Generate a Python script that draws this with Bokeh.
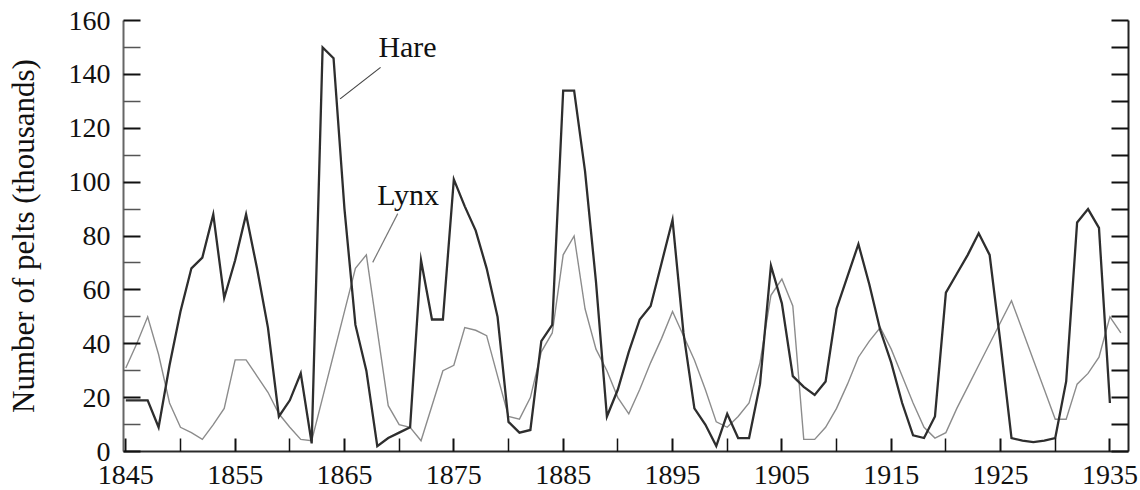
from bokeh.plotting import figure
from bokeh.models import Range1d, FixedTicker, LinearAxis, Label, Arrow
from bokeh.embed import file_html
from bokeh.resources import INLINE

nan = float("nan")

years = list(range(1845, 1937))

hare = [19, 19, 19, 9, 32, 52, 68, 72, 88, 57,
        71, 88, 68, 46, 13, 19, 29, 3, 150, 146,
        90, 47, 30, 2, 5, 7, 9, 71, 49, 49,
        101, 91, 82, 68, 50, 11, 7, 8, 41, 47,
        134, 134, 104, 63, 13, 23, 37, 49, 54, 70,
        86, 44, 16, 10, 2, 14, 5, 5, 25, 69,
        55, 28, 24, 21, 26, 53, 65, 77, 62, 45,
        33, 18, 6, 5, 13, 59, 66, 73, 81, 73,
        40, 5, 4, 3.5, 4, 5, 26, 85, 90, 83,
        18, nan]

lynx = [31, 40, 50, 36, 18, 9, 7, 4.5, 10, 16,
        34, 34, 28, 22, 14, 9, 4.5, 4, 20, 36,
        52, 68, 73, 45, 17, 10, 9, 4, 17, 30,
        32, 46, 45, 43, 28, 13, 12, 20, 37, 44,
        73, 80, 53, 38, 30, 20, 14, 23, 33, 42,
        52, 43, 34, 23, 11, 9, 13, 18, 33, 58,
        64, 54, 4.5, 4.5, 9, 16, 25, 35, 41, 46,
        38, 28, 18, 9, 5, 7, 16, 24, 32, 40,
        48, 56, 45, 34, 23, 12, 12, 25, 29, 35,
        50, 44]

x_ticks = list(range(1845, 1936, 10))
x_minor = list(range(1850, 1931, 10))
y_ticks = list(range(0, 161, 20))
y_minor = list(range(10, 151, 20))
right_ticks = list(range(0, 161, 10))

FONT = "Liberation Serif"

p = figure(width=1140, height=490, output_backend="svg", toolbar_location=None,
           x_range=Range1d(1844.79, 1936.7), y_range=Range1d(0, 160),
           min_border_left=123, min_border_right=12, min_border_top=20,
           min_border_bottom=39)
p.outline_line_color = None
p.xgrid.visible = False
p.ygrid.visible = False
p.background_fill_color = "white"
p.border_fill_color = "white"

xa = p.xaxis[0]
xa.ticker = FixedTicker(ticks=x_ticks, minor_ticks=x_minor)
xa.major_tick_in = 13
xa.major_tick_out = 0
xa.minor_tick_in = 13
xa.minor_tick_out = 0
xa.axis_line_color = "#2a2a2a"
xa.axis_line_width = 2
xa.major_tick_line_color = "#111111"
xa.minor_tick_line_color = "#111111"
xa.major_tick_line_width = 2
xa.minor_tick_line_width = 1.5
xa.major_label_text_font = FONT
xa.major_label_text_font_size = "28px"
xa.major_label_text_color = "#111111"
xa.major_label_standoff = 14

ya = p.yaxis[0]
ya.ticker = FixedTicker(ticks=y_ticks, minor_ticks=y_minor)
ya.major_tick_in = 17
ya.major_tick_out = 0
ya.minor_tick_in = 17
ya.minor_tick_out = 0
ya.axis_line_color = "#666666"
ya.axis_line_width = 2
ya.major_tick_line_color = "#111111"
ya.minor_tick_line_color = "#555555"
ya.major_tick_line_width = 2
ya.minor_tick_line_width = 1.5
ya.major_label_text_font = FONT
ya.major_label_text_font_size = "28px"
ya.major_label_text_color = "#111111"
ya.major_label_standoff = 13
ya.axis_label = "Number of pelts (thousands)"
ya.axis_label_text_font = FONT
ya.axis_label_text_font_size = "31px"
ya.axis_label_text_font_style = "normal"
ya.axis_label_text_color = "#111111"
ya.axis_label_standoff = 25

ra = LinearAxis(ticker=FixedTicker(ticks=right_ticks))
ra.major_tick_in = 17
ra.major_tick_out = 0
ra.minor_tick_in = 0
ra.minor_tick_out = 0
ra.axis_line_color = "#222222"
ra.axis_line_width = 2
ra.major_tick_line_color = "#111111"
ra.major_tick_line_width = 2
ra.major_label_text_font_size = "1px"
ra.major_label_text_color = None
ra.major_label_standoff = 0
p.add_layout(ra, "right")

p.line(years, lynx, line_color="#8c8c8c", line_width=1.4, line_join="miter")
p.line(years, hare, line_color="#2e2e2e", line_width=2.3, line_join="miter")

p.add_layout(Label(x=1868.1, y=150.3, text="Hare", text_font=FONT,
                   text_font_size="30px", text_color="#111111",
                   text_baseline="middle"))
p.add_layout(Label(x=1868.0, y=95.4, text="Lynx", text_font=FONT,
                   text_font_size="30px", text_color="#111111",
                   text_baseline="middle"))
p.add_layout(Arrow(end=None, x_start=1868.3, y_start=142.6, x_end=1864.6, y_end=130.9,
                   line_color="#444444", line_width=1.2))
p.add_layout(Arrow(end=None, x_start=1869.87, y_start=88.3, x_end=1867.58, y_end=70.2,
                   line_color="#777777", line_width=1.2))

open("out.html", "w").write(file_html(p, INLINE))
